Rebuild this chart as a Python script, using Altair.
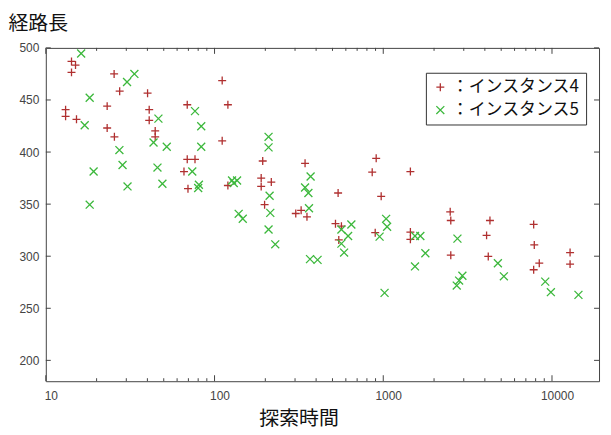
import altair as alt
import pandas as pd

# ---- data ----
series_names = ["インスタンス4", "インスタンス5"]

red_t = [14.2, 15.0, 14.2, 25.4, 27.4, 40.1, 13.1, 13.1, 15.2, 23.1, 41.0, 41.0, 68.9, 23.1,
         25.5, 44.5, 44.5, 68.9, 76.6, 65.9, 69.6, 120, 111, 111, 193, 344, 189, 189, 217,
         120, 540, 198, 303, 326, 353, 521, 565, 545, 908, 860, 1448, 972, 2493, 2513, 4289,
         7788, 896, 1448, 1448, 4096, 7853, 2513, 4191, 12800, 12800, 8407, 7788]
red_v = [487, 483.5, 476.5, 475, 458.4, 456.5, 440.7, 434.3, 431.4, 444.1, 440.7, 430.5, 445.4,
         423.1, 414.6, 420.3, 414.6, 393, 393, 381.3, 364.8, 445.4, 468.6, 410.8, 391.4, 389.2,
         375, 367, 371.2, 367.9, 360.7, 349.5, 341, 344.1, 337.8, 331.2, 328.9, 315.6, 394,
         380.7, 381.3, 357.5, 342.6, 334.3, 334.3, 330.5, 322.6, 323.2, 316.2, 320, 310.8, 301,
         299.8, 303.5, 292.4, 293.3, 287]

green_t = [16.2, 33.5, 30.3, 18.2, 17.0, 46.5, 76.6, 83.4, 43.5, 52.1, 83.4, 27.3, 73.8, 19.2,
           28.5, 45.9, 49.1, 30.5, 80.8, 80.0, 18.2, 209, 209, 371, 127, 136, 130, 344, 360,
           212, 214, 139, 147, 363, 647, 565, 619, 565, 209, 229, 586, 368, 408, 1040, 1054,
           951, 1542, 1659, 2752, 1776, 1542, 4779, 2944, 2816, 2726, 5186, 9120, 9850, 1018,
           14350]
green_v = [494.6, 475, 467.3, 452.1, 425.7, 432.1, 439.3, 424.8, 409.2, 405.1, 405.1, 401.9,
           381.3, 381.3, 387.6, 385.1, 369.6, 367, 368.6, 365.5, 349.5, 414.6, 404.5, 376.5,
           372.7, 372.7, 370.2, 366, 360.7, 358.1, 341.6, 340.7, 336, 346, 330.5, 325.7, 319.4,
           312.1, 325.7, 311.4, 303.5, 297.2, 296.5, 335.9, 328.3, 318.8, 319.4, 319.4, 316.9,
           302.9, 290.2, 293.3, 281.3, 276.6, 271.8, 280.7, 275.6, 265.5, 264.8, 262.9]

x_label_values = [10, 100, 1000, 10000]
x_minor_values = [20, 30, 40, 50, 60, 70, 80, 90,
                  200, 300, 400, 500, 600, 700, 800, 900,
                  2000, 3000, 4000, 5000, 6000, 7000, 8000, 9000]
y_label_values = [200, 250, 300, 350, 400, 450, 500]

# ---- build tables ----
df = pd.concat([
    pd.DataFrame({"t": red_t, "v": red_v, "s": series_names[0]}),
    pd.DataFrame({"t": green_t, "v": green_v, "s": series_names[1]}),
], ignore_index=True)
major_df = pd.DataFrame({"t": x_label_values})
minor_df = pd.DataFrame({"t": x_minor_values})
ytick_df = pd.DataFrame({"v": y_label_values})

W, H = 556, 335
RED, GREEN = "#b03030", "#3cb83c"
PLUS = "M-1,0L1,0M0,-1L0,1"
CROSS = "M-1,-1L1,1M-1,1L1,-1"

xscale = alt.Scale(type="log", domain=[10, 19000], nice=False)
yscale = alt.Scale(domain=[180, 500], nice=False, zero=False)

xaxis = alt.Axis(
    values=x_label_values, format="d", ticks=False, domain=False, grid=False,
    labelFont="Liberation Sans", labelFontSize=12, labelColor="#444",
    labelPadding=9, labelOffset=5, labelFlush=False,
    title="探索時間", titleFont="Noto Sans CJK JP", titleFontSize=20,
    titleFontWeight="normal", titleColor="#111",
    titleX=254, titleY=44, titleAlign="center", titleBaseline="alphabetic")
yaxis = alt.Axis(
    values=y_label_values, ticks=False, domain=False, grid=False,
    labelFont="Liberation Sans", labelFontSize=12, labelColor="#444", labelPadding=7,
    title="経路長", titleFont="Noto Sans CJK JP", titleFontSize=20,
    titleFontWeight="normal", titleColor="#111", titleAngle=0,
    titleX=-38, titleY=-18, titleAlign="left", titleBaseline="alphabetic")

points = alt.Chart(df).mark_point(filled=False, size=64, strokeWidth=1.3, opacity=1).encode(
    x=alt.X("t:Q", scale=xscale, axis=xaxis),
    y=alt.Y("v:Q", scale=yscale, axis=yaxis),
    color=alt.Color("s:N", scale=alt.Scale(domain=series_names, range=[RED, GREEN]),
                    legend=alt.Legend(
                        orient="none", legendX=382, legendY=25, title=None,
                        strokeColor="#333", fillColor="white", padding=6,
                        labelFont="Noto Sans CJK JP", labelFontSize=17, labelColor="#111",
                        labelExpr="'：' + datum.label", symbolSize=64,
                        symbolStrokeWidth=1.3, labelOffset=3, rowPadding=5)),
    shape=alt.Shape("s:N", scale=alt.Scale(domain=series_names, range=[PLUS, CROSS])),
)

tick_color = "#444"
major_bottom = alt.Chart(major_df).mark_rule(color=tick_color).encode(
    x=alt.X("t:Q", scale=xscale, axis=xaxis), y=alt.value(H), y2=alt.value(H - 6))
major_top = alt.Chart(major_df).mark_rule(color=tick_color).encode(
    x=alt.X("t:Q", scale=xscale, axis=xaxis), y=alt.value(0), y2=alt.value(6))
minor_bottom = alt.Chart(minor_df).mark_rule(color=tick_color).encode(
    x=alt.X("t:Q", scale=xscale, axis=xaxis), y=alt.value(H), y2=alt.value(H - 3))
minor_top = alt.Chart(minor_df).mark_rule(color=tick_color).encode(
    x=alt.X("t:Q", scale=xscale, axis=xaxis), y=alt.value(0), y2=alt.value(3))
ytick_left = alt.Chart(ytick_df).mark_rule(color=tick_color).encode(
    y=alt.Y("v:Q", scale=yscale, axis=yaxis), x=alt.value(0), x2=alt.value(5))
ytick_right = alt.Chart(ytick_df).mark_rule(color=tick_color).encode(
    y=alt.Y("v:Q", scale=yscale, axis=yaxis), x=alt.value(W), x2=alt.value(W - 5))

chart = alt.layer(
    points, major_bottom, major_top, minor_bottom, minor_top, ytick_left, ytick_right
).properties(
    width=W, height=H,
    padding={"left": 38, "top": 39, "right": 4, "bottom": 58},
    autosize=alt.AutoSizeParams(type="none"),
    background="white",
).configure_view(stroke="#444", strokeWidth=1)

chart.save("out.html", embed_options={"renderer": "svg", "actions": False})
